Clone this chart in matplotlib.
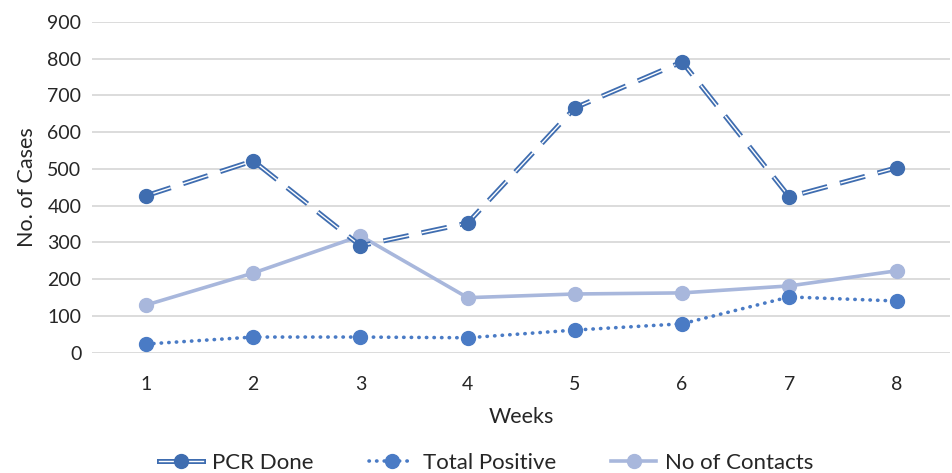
import matplotlib.pyplot as plt
from matplotlib.lines import Line2D
from matplotlib.legend_handler import HandlerTuple

plt.rcParams['font.family'] = ['Lato', 'DejaVu Sans']

weeks = [1, 2, 3, 4, 5, 6, 7, 8]
pcr_done = [427, 522, 291, 353, 666, 791, 424, 503]
total_positive = [24, 43, 43, 41, 62, 79, 152, 141]
no_of_contacts = [130, 217, 318, 150, 160, 163, 182, 223]

c_pcr = '#3F6DB0'
c_pos = '#4A7BC5'
c_con = '#A8B7DC'

fig = plt.figure(figsize=(9.53, 4.73), dpi=100)
ax = fig.add_axes([0.097, 0.254, 0.9, 0.7])

# No of Contacts - solid light line
ax.plot(weeks, no_of_contacts, color=c_con, lw=2.6, marker='o', ms=10,
        zorder=3)

# Total Positive - dotted
dot = (0, (0.1, 2.0))
ax.plot(weeks, total_positive, color=c_pos, lw=2.6, ls=dot,
        dash_capstyle='round', marker='o', ms=10, zorder=4)

# PCR Done - dashed double line
dash = (0, (5.2, 2.6))
ax.plot(weeks, pcr_done, color=c_pcr, lw=3.6, ls=dash, zorder=5)
ax.plot(weeks, pcr_done, color='white', lw=1.0, ls=(0, (18.7, 9.4)), zorder=6)
ax.plot(weeks, pcr_done, color=c_pcr, lw=0, marker='o', ms=10, zorder=7)

ax.set_xlim(0.5, 8.5)
ax.set_ylim(0, 900)
ax.set_yticks(range(0, 901, 100))
ax.set_xticks(weeks)
ax.grid(axis='y', color='#D9D9D9', lw=1.3)
ax.set_axisbelow(True)
for s in ax.spines.values():
    s.set_visible(False)
ax.tick_params(length=0, labelsize=14, colors='#262626', pad=8)
ax.tick_params(axis='x', pad=17)
ax.set_xlabel('Weeks', fontsize=15.5, color='#262626', labelpad=10)
ax.set_ylabel('No. of Cases', fontsize=15.5, color='#262626', labelpad=7)

# legend handles
h_pcr = (Line2D([], [], color=c_pcr, lw=3.6),
         Line2D([], [], color='white', lw=1.0),
         Line2D([], [], color=c_pcr, lw=0, marker='o', ms=10))
h_pos = Line2D([], [], color=c_pos, lw=2.6, ls=dot,
               dash_capstyle='round', marker='o', ms=10)
h_con = Line2D([], [], color=c_con, lw=2.6, marker='o', ms=10)
fig.legend([h_pcr, h_pos, h_con], ['PCR Done', 'Total Positive', 'No of Contacts'],
           loc='center', bbox_to_anchor=(0.51, 0.022), ncol=3, frameon=False,
           fontsize=16, handlelength=2.0, columnspacing=2.5, handletextpad=0.4,
           handler_map={tuple: HandlerTuple(ndivide=1, pad=0)},
           labelcolor='#262626')

fig.savefig('out.png', dpi=100)
